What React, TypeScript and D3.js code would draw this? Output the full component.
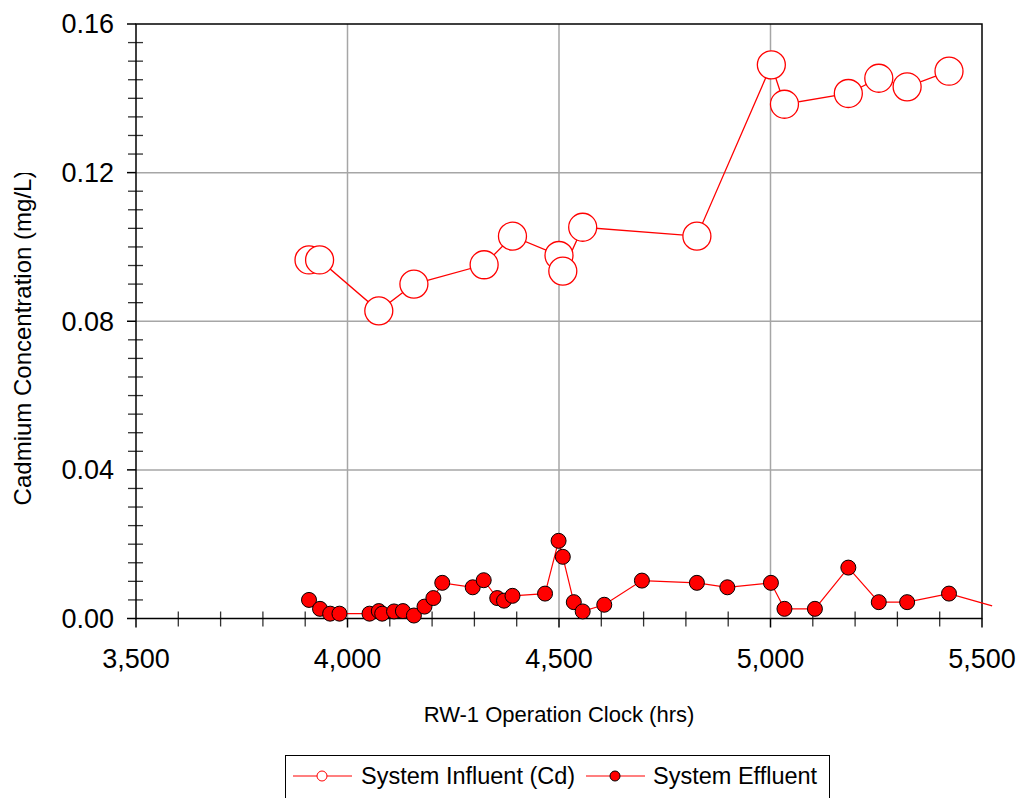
import React, { useEffect, useRef } from "react";
import * as d3 from "d3";

// RW-1 operation clock (hrs) and cadmium concentration (mg/L)
const influentHours = [
  3909, 3934, 4074, 4157, 4323, 4390, 4500, 4509, 4556, 4826, 5002, 5033,
  5184, 5256, 5323, 5422,
];
const influentCd = [
  0.0965, 0.0965, 0.0828, 0.09, 0.0952, 0.1029, 0.0977, 0.0935, 0.1053,
  0.1029, 0.149, 0.1384, 0.1413, 0.1454, 0.1431, 0.1473,
];

const effluentHours = [
  3909, 3935, 3959, 3981, 4052, 4074, 4082, 4110, 4131, 4157, 4182, 4203,
  4224, 4296, 4322, 4354, 4370, 4390, 4467, 4499, 4509, 4535, 4556, 4607,
  4696, 4826, 4898, 5001, 5033, 5105, 5184, 5256, 5323, 5422, 5524,
];
const effluentCd = [
  0.005, 0.0026, 0.0013, 0.0013, 0.0013, 0.002, 0.0013, 0.0019, 0.002,
  0.0008, 0.0032, 0.0055, 0.0096, 0.0084, 0.0103, 0.0055, 0.0048, 0.0061,
  0.0067, 0.0209, 0.0166, 0.0044, 0.0019, 0.0037, 0.0102, 0.0096, 0.0084,
  0.0096, 0.0026, 0.0026, 0.0137, 0.0044, 0.0044, 0.0067, 0.0034,
];

const xMajorTicks = [3500, 4000, 4500, 5000, 5500];
const yMajorTicks = [0, 0.04, 0.08, 0.12, 0.16];

const legendLabels = ["System Influent (Cd)", "System Effluent"];

const W = 1021;
const H = 798;
const FONT = "'Liberation Sans', Arial, sans-serif";

export default function App() {
  const svgRef = useRef<SVGSVGElement>(null);

  useEffect(() => {
    if (!svgRef.current) return;
    const svg = d3.select(svgRef.current);
    svg.selectAll("*").remove();

    const left = 136;
    const right = 982;
    const top = 24;
    const bottom = 618.5;

    const x = d3.scaleLinear().domain([3500, 5500]).range([left, right]);
    const y = d3.scaleLinear().domain([0, 0.16]).range([bottom, top]);

    // gridlines
    const grid = svg.append("g").attr("stroke", "#a6a6a6").attr("stroke-width", 1.5);
    grid
      .selectAll("line.gx")
      .data(xMajorTicks.filter((d) => d > 3500 && d < 5500))
      .join("line")
      .attr("x1", (d) => x(d))
      .attr("x2", (d) => x(d))
      .attr("y1", top)
      .attr("y2", bottom);
    grid
      .selectAll("line.gy")
      .data(yMajorTicks.filter((d) => d > 0 && d < 0.16))
      .join("line")
      .attr("x1", left)
      .attr("x2", right)
      .attr("y1", (d) => y(d))
      .attr("y2", (d) => y(d));

    // minor ticks
    const xMinor = d3.range(3600, 5500, 100).filter((d) => d % 500 !== 0);
    const yMinor = d3.range(1, 32).map((i) => i * 0.005).filter((_, i) => (i + 1) % 8 !== 0);
    const ticks = svg.append("g").attr("stroke", "#333").attr("stroke-width", 1.3);
    ticks
      .selectAll("line.mx")
      .data(xMinor)
      .join("line")
      .attr("x1", (d) => x(d))
      .attr("x2", (d) => x(d))
      .attr("y1", bottom - 7)
      .attr("y2", bottom + 8);
    ticks
      .selectAll("line.my")
      .data(yMinor)
      .join("line")
      .attr("x1", left - 8)
      .attr("x2", left + 7)
      .attr("y1", (d) => y(d))
      .attr("y2", (d) => y(d));

    // major ticks (outward)
    const major = svg.append("g").attr("stroke", "#000").attr("stroke-width", 1.5);
    major
      .selectAll("line.Mx")
      .data(xMajorTicks)
      .join("line")
      .attr("x1", (d) => x(d))
      .attr("x2", (d) => x(d))
      .attr("y1", bottom)
      .attr("y2", bottom + 9);
    major
      .selectAll("line.My")
      .data(yMajorTicks)
      .join("line")
      .attr("x1", left - 9)
      .attr("x2", left)
      .attr("y1", (d) => y(d))
      .attr("y2", (d) => y(d));

    // frame
    svg
      .append("rect")
      .attr("x", left)
      .attr("y", top)
      .attr("width", right - left)
      .attr("height", bottom - top)
      .attr("fill", "none")
      .attr("stroke", "#000")
      .attr("stroke-width", 1.5);

    // tick labels
    svg
      .append("g")
      .selectAll("text")
      .data(xMajorTicks)
      .join("text")
      .attr("x", (d) => x(d))
      .attr("y", 668)
      .attr("text-anchor", "middle")
      .attr("font-family", FONT)
      .attr("font-size", 27)
      .text((d) => d3.format(",")(d));
    svg
      .append("g")
      .selectAll("text")
      .data(yMajorTicks)
      .join("text")
      .attr("x", 114)
      .attr("y", (d) => y(d))
      .attr("dy", "0.35em")
      .attr("text-anchor", "end")
      .attr("font-family", FONT)
      .attr("font-size", 27)
      .text((d) => d3.format(".2f")(d));

    // axis titles
    svg
      .append("text")
      .attr("x", (left + right) / 2)
      .attr("y", 722)
      .attr("text-anchor", "middle")
      .attr("font-family", FONT)
      .attr("font-size", 22)
      .text("RW-1 Operation Clock (hrs)");

    svg
      .append("clipPath")
      .attr("id", "ytitle-clip")
      .append("rect")
      .attr("x", 0)
      .attr("y", 173)
      .attr("width", 60)
      .attr("height", 400);
    svg
      .append("g")
      .attr("clip-path", "url(#ytitle-clip)")
      .append("text")
      .attr("transform", `translate(31,${338}) rotate(-90)`)
      .attr("text-anchor", "middle")
      .attr("font-family", FONT)
      .attr("font-size", 24)
      .text("Cadmium Concentration (mg/L)");

    // series
    const influent = influentHours.map((h, i) => ({ h, v: influentCd[i] }));
    const effluent = effluentHours.map((h, i) => ({ h, v: effluentCd[i] }));
    const line = d3
      .line<{ h: number; v: number }>()
      .x((d) => x(d.h))
      .y((d) => y(d.v));

    svg
      .append("path")
      .datum(effluent)
      .attr("d", line)
      .attr("fill", "none")
      .attr("stroke", "#ff0000")
      .attr("stroke-width", 1.2);
    svg
      .append("g")
      .selectAll("circle")
      .data(effluent.filter((d) => d.h <= 5500))
      .join("circle")
      .attr("cx", (d) => x(d.h))
      .attr("cy", (d) => y(d.v))
      .attr("r", 7.5)
      .attr("fill", "#ff0000")
      .attr("stroke", "#000")
      .attr("stroke-width", 1);

    svg
      .append("path")
      .datum(influent)
      .attr("d", line)
      .attr("fill", "none")
      .attr("stroke", "#ff0000")
      .attr("stroke-width", 1.3);
    svg
      .append("g")
      .selectAll("circle")
      .data(influent)
      .join("circle")
      .attr("cx", (d) => x(d.h))
      .attr("cy", (d) => y(d.v))
      .attr("r", 14)
      .attr("fill", "#fff")
      .attr("stroke", "#ff0000")
      .attr("stroke-width", 1.3);

    // legend
    const lg = svg.append("g");
    lg.append("rect")
      .attr("x", 285.5)
      .attr("y", 755.5)
      .attr("width", 544)
      .attr("height", 60)
      .attr("fill", "#fff")
      .attr("stroke", "#000")
      .attr("stroke-width", 1);
    const items = [
      { x0: 293, text: legendLabels[0], filled: false, tx: 361 },
      { x0: 586, text: legendLabels[1], filled: true, tx: 653 },
    ];
    items.forEach((it) => {
      lg.append("line")
        .attr("x1", it.x0)
        .attr("x2", it.x0 + 59)
        .attr("y1", 776)
        .attr("y2", 776)
        .attr("stroke", "#ff0000")
        .attr("stroke-width", 1.2);
      lg.append("circle")
        .attr("cx", it.x0 + 29)
        .attr("cy", 776)
        .attr("r", 5)
        .attr("fill", it.filled ? "#ff0000" : "#fff")
        .attr("stroke", it.filled ? "#000" : "#ff0000")
        .attr("stroke-width", 1);
      lg.append("text")
        .attr("x", it.tx)
        .attr("y", 784)
        .attr("font-family", FONT)
        .attr("font-size", 23.5)
        .text(it.text);
    });
  }, []);

  return (
    <svg
      ref={svgRef}
      width={W}
      height={H}
      style={{ position: "absolute", left: 0, top: 0, background: "#fff" }}
    />
  );
}
